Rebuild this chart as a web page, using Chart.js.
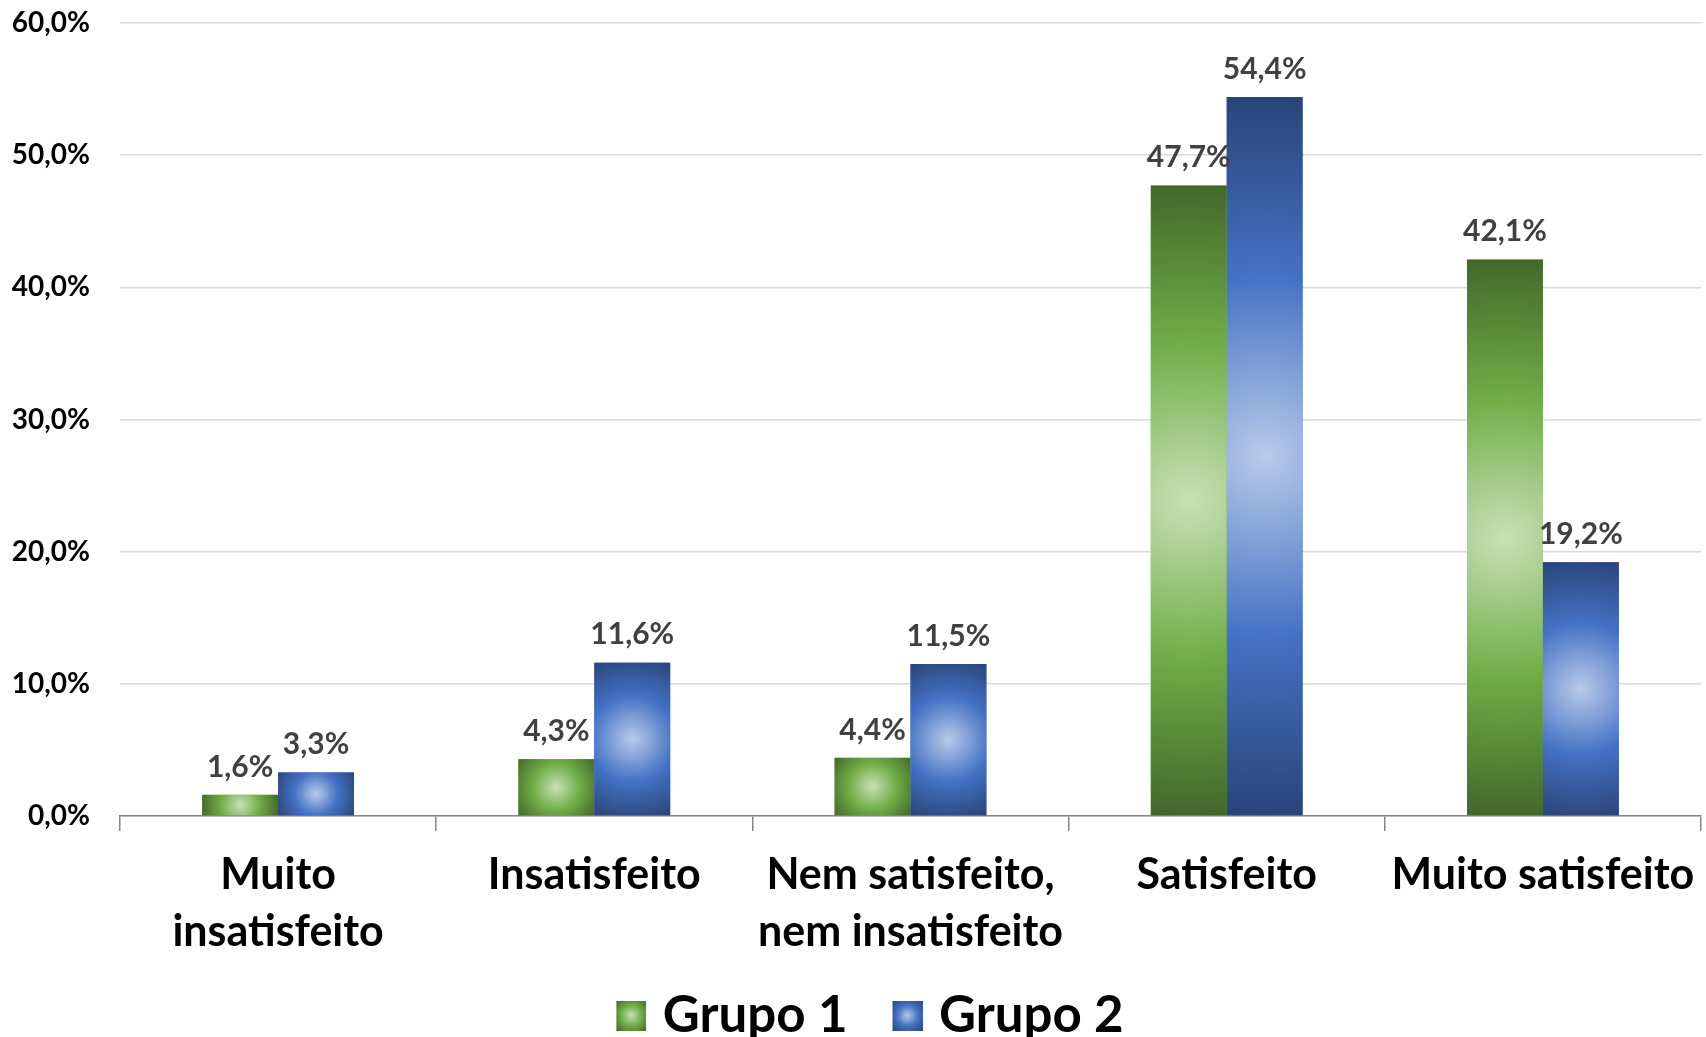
<!DOCTYPE html>
<html>
<head>
<meta charset="utf-8">
<script src="https://cdn.jsdelivr.net/npm/chart.js@4/dist/chart.umd.min.js"></script>
<style>
	html, body { margin: 0; padding: 0; background: #fff; }
	#wrap { width: 1706px; height: 1037px; }
</style>
</head>
<body>
<div id="wrap"><canvas id="satisChart" width="1706" height="1037"></canvas></div>
<script>
const categories = [['Muito', 'insatisfeito'], 'Insatisfeito', ['Nem satisfeito,', 'nem insatisfeito'], 'Satisfeito', 'Muito satisfeito'];
const grupo1 = [1.6, 4.3, 4.4, 47.7, 42.1];
const grupo2 = [3.3, 11.6, 11.5, 54.4, 19.2];
const seriesNames = ['Grupo 1', 'Grupo 2'];
const yTicks = [0, 10, 20, 30, 40, 50, 60];

const FONT = 'Lato, "Open Sans", sans-serif';
// radial stops: centre -> edge
const greenStops = [[0, '#c8e1b6'], [0.5, '#70ad47'], [1, '#43682a']];
const blueStops = [[0, '#b8cae9'], [0.5, '#4472c4'], [1, '#2a4478']];

function fmtPct(v) { return v.toFixed(1).replace('.', ',') + '%'; }

function radial(ctx, cx, cy, r, stops) {
	const g = ctx.createRadialGradient(cx, cy, 0, cx, cy, r);
	stops.forEach(s => g.addColorStop(s[0], s[1]));
	return g;
}

// legend swatch: 30px square on the right side of a 48px canvas (pulls the text closer)
function legendSwatch(stops) {
	const c = document.createElement('canvas');
	c.width = 48; c.height = 30;
	const x = c.getContext('2d');
	x.translate(18, 0);
	x.fillStyle = radial(x, 15, 15, 21, stops);
	x.fillRect(0, 0, 30, 30);
	return c;
}

/* ---------- bar gradients + value labels ---------- */
const barPaint = {
	id: 'barPaint',
	afterLayout(chart) {
		// nudge the legend row a bit to the right, like the original
		if (chart.legend) { chart.legend.left += 15; chart.legend.right += 15; }
	},
	afterDatasetsDraw(chart) {
		const ctx = chart.ctx;
		chart.data.datasets.forEach((ds, i) => {
			const meta = chart.getDatasetMeta(i);
			const stops = i === 0 ? greenStops : blueStops;
			meta.data.forEach(bar => {
				const p = bar.getProps(['x', 'y', 'base', 'width'], true);
				const x0 = p.x - p.width / 2;
				const top = Math.min(p.y, p.base), bot = Math.max(p.y, p.base);
				const r = Math.hypot(p.width / 2, (bot - top) / 2);
				ctx.save();
				ctx.fillStyle = radial(ctx, p.x, (top + bot) / 2, r, stops);
				ctx.fillRect(x0, top, p.width, bot - top);
				ctx.restore();
			});
		});
		// labels after all bars so they sit on top
		chart.data.datasets.forEach((ds, i) => {
			const meta = chart.getDatasetMeta(i);
			meta.data.forEach((bar, j) => {
				const p = bar.getProps(['x', 'y'], true);
				ctx.save();
				ctx.font = 'bold 30px ' + FONT;
				ctx.fillStyle = '#404040';
				ctx.textAlign = 'center';
				ctx.textBaseline = 'middle';
				ctx.fillText(fmtPct(ds.data[j]), p.x, p.y - 28);
				ctx.restore();
			});
		});
	}
};

window.addEventListener('DOMContentLoaded', function () {
	const ctx = document.getElementById('satisChart').getContext('2d');
	new Chart(ctx, {
		type: 'bar',
		data: {
			labels: categories,
			datasets: [
				{ label: seriesNames[0], data: grupo1, backgroundColor: '#70ad47', pointStyle: legendSwatch(greenStops), borderWidth: 0 },
				{ label: seriesNames[1], data: grupo2, backgroundColor: '#4472c4', pointStyle: legendSwatch(blueStops), borderWidth: 0 }
			]
		},
		options: {
			responsive: false,
			animation: false,
			devicePixelRatio: 1,
			categoryPercentage: 0.48,
			barPercentage: 1,
			layout: { padding: { top: 23, right: 5, left: 0, bottom: -14 } },
			plugins: {
				tooltip: { enabled: false },
				legend: {
					position: 'bottom',
					labels: {
						usePointStyle: true,
						boxWidth: 30,
						boxHeight: 30,
						padding: 36,
						color: '#000',
						font: { family: FONT, size: 51, weight: 'bold' }
					}
				}
			},
			scales: {
				x: {
					grid: { offset: true, drawOnChartArea: false, drawTicks: true, tickLength: 15, color: '#868686', lineWidth: 1.5 },
					border: { color: '#868686', width: 1.5 },
					ticks: {
						color: '#000', padding: 16, maxRotation: 0, autoSkip: false,
						font: { family: FONT, size: 43, weight: 'bold', lineHeight: 1.32 }
					},
					afterFit(scale) { scale.height = 138; scale.paddingLeft = 0; scale.paddingRight = 0; }
				},
				y: {
					min: 0, max: 60,
					afterBuildTicks(scale) { scale.ticks = yTicks.map(v => ({ value: v })); },
					grid: { color: '#d9d9d9', lineWidth: 1.5, drawTicks: false },
					border: { display: false },
					ticks: {
						color: '#000', padding: 30,
						font: { family: FONT, size: 28, weight: 'bold' },
						callback: v => fmtPct(v)
					},
					afterFit(scale) { scale.width = 120; scale.paddingTop = 0; scale.paddingBottom = 0; }
				}
			}
		},
		plugins: [barPaint]
	});
});
</script>
</body>
</html>
